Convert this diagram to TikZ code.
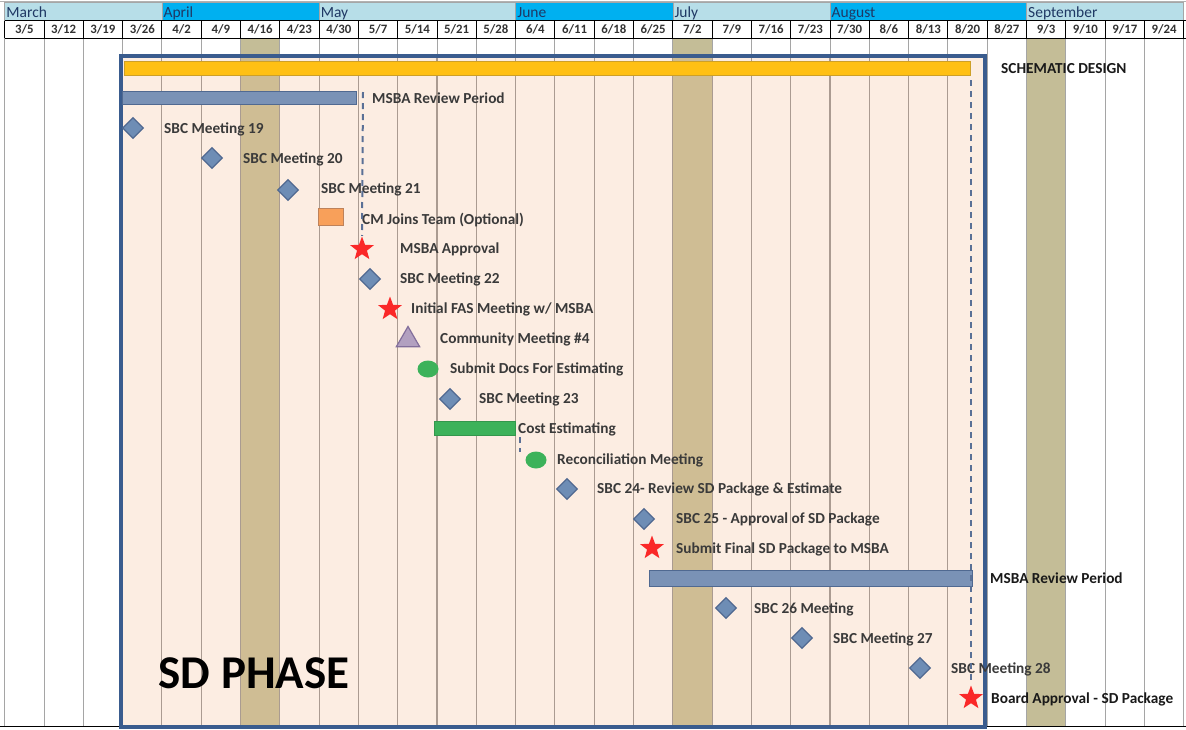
\documentclass[tikz,border=0pt]{standalone}
\usepackage{fontspec}
\setmainfont{Carlito}
\usetikzlibrary{shapes.geometric}
\definecolor{monthLight}{RGB}{183,222,232}
\definecolor{monthDark}{RGB}{0,176,240}
\definecolor{monthText}{RGB}{31,56,100}
\definecolor{tanIn}{RGB}{207,189,148}
\definecolor{tanOut}{RGB}{196,189,151}
\definecolor{peach}{RGB}{252,237,226}
\definecolor{boxBlue}{RGB}{58,92,142}
\definecolor{gridOut}{RGB}{165,165,165}
\definecolor{gridIn}{RGB}{170,155,145}
\definecolor{yellowBar}{RGB}{255,192,20}
\definecolor{yellowEdge}{RGB}{205,160,40}
\definecolor{barBlue}{RGB}{122,146,182}
\definecolor{barEdge}{RGB}{80,105,145}
\definecolor{diaFill}{RGB}{110,141,181}
\definecolor{greenM}{RGB}{60,178,90}
\definecolor{orangeM}{RGB}{248,160,90}
\definecolor{orangeEdge}{RGB}{190,130,90}
\definecolor{redStar}{RGB}{250,40,40}
\definecolor{triFill}{RGB}{178,160,192}
\definecolor{triEdge}{RGB}{130,110,155}
\definecolor{lblGray}{RGB}{58,58,58}
\definecolor{lblDark}{RGB}{25,25,25}
\definecolor{dashBlue}{RGB}{90,112,150}
\begin{document}
\begin{tikzpicture}[x=1pt,y=-1pt,
  monthtxt/.style={anchor=base west,inner sep=0,text=monthText,font=\fontsize{15.5}{15.5}\selectfont},
  datetxt/.style={inner sep=0,text=black!80,font=\fontsize{12.8}{12.8}\selectfont\bfseries},
  lbl/.style={anchor=base west,inner sep=0,text=lblGray,font=\fontsize{15.3}{15.3}\selectfont\bfseries},
  lblout/.style={lbl,text=lblDark},
  dia/.style={diamond,draw=barEdge,fill=diaFill,line width=1.2,minimum width=21,minimum height=21,inner sep=0},
  starm/.style={star,star points=5,star point ratio=2.4,fill=redStar,minimum size=25,inner sep=0},
  dot/.style={ellipse,fill=greenM,minimum width=21,minimum height=17,inner sep=0},
  tri/.style={regular polygon,regular polygon sides=3,draw=triEdge,fill=triFill,line width=1.2,minimum size=27,inner sep=0},
  bluebar/.style={draw=barEdge,fill=barBlue,line width=1,inner sep=0,anchor=west},
  dashline/.style={draw=dashBlue,line width=2,dash pattern=on 6pt off 5pt}
]
\def\xo{4.7}
\def\cw{39.3}
\useasboundingbox (0,0) rectangle (1186,729);
\fill[white] (0,0) rectangle (1186,729);

% ---- tan columns (outside colour) ----
\foreach \c in {6,17,26}
  \fill[tanOut] ({\xo+\c*\cw},38) rectangle ({\xo+(\c+1)*\cw},726);

% ---- phase box fill ----
\fill[peach] (121,56) rectangle (985,727);
\foreach \c in {6,17}
  \fill[tanIn] ({\xo+\c*\cw},58) rectangle ({\xo+(\c+1)*\cw},725);

% ---- grid lines ----
\foreach \i in {0,...,30}
  \draw[gridOut,line width=1] ({\xo+\i*\cw},38) -- ({\xo+\i*\cw},726);
\begin{scope}
  \clip (123,58) rectangle (983,725);
  \foreach \i in {0,...,30}
    \draw[gridIn,line width=1.1] ({\xo+\i*\cw},38) -- ({\xo+\i*\cw},726);
\end{scope}
\draw[black,line width=0.8] (0,726) -- (1186,726);

% ---- header: months ----
\draw[gray!60,line width=0.8] (0,1) -- (1186,1);
\foreach \a/\b/\nm/\col in {0/4/March/monthLight,4/8/April/monthDark,8/13/May/monthLight,13/17/June/monthDark,17/21/July/monthLight,21/26/August/monthDark,26/30/September/monthLight}{
  \filldraw[fill=\col,draw=gray!70,line width=0.6] ({\xo+\a*\cw},2) rectangle ({\xo+\b*\cw},20.5);
  \node[monthtxt] (m\nm) at ({\xo+\a*\cw+1.5},17) {\nm};
}
% ---- header: dates ----
\foreach \dt [count=\i from 0] in {3/5,3/12,3/19,3/26,4/2,4/9,4/16,4/23,4/30,5/7,5/14,5/21,5/28,6/4,6/11,6/18,6/25,7/2,7/9,7/16,7/23,7/30,8/6,8/13,8/20,8/27,9/3,9/10,9/17,9/24}
  \node[datetxt] (dt\i) at ({\xo+(\i+0.5)*\cw},29.5) {\dt};
\foreach \i in {0,...,30}
  \draw[black,line width=0.9] ({\xo+\i*\cw},20.5) -- ({\xo+\i*\cw},38);
\draw[black,line width=0.9] (\xo,20.5) -- (1186,20.5);
\draw[black,line width=1] (\xo,38) -- (1186,38);

% ---- phase box border ----
\draw[boxBlue,line width=3.6] (121,56) rectangle (985,727);

% ---- SD PHASE ----
\node[inner sep=0,font=\fontsize{47}{47}\selectfont\bfseries,text=black] (phase) at (254,673) {SD PHASE};

% ---- bars ----
\node[draw=yellowEdge,fill=yellowBar,line width=1,inner sep=0,anchor=west,minimum width=846,minimum height=14] (sd) at (124,68) {};
\node[lblout] (lsd) at (1001,73.5) {SCHEMATIC DESIGN};

\node[bluebar,minimum width=234,minimum height=12.5] (rev1) at (122,98) {};
\node[lbl] (lrev1) at (372,103.5) {MSBA Review Period};

% ---- dashed connector end points ----
\coordinate (d1top) at (363,92);
\coordinate (d2top) at (971,80);
\coordinate (d3top) at (520,437);
\coordinate (d3bot) at (520,452);

% ---- markers ----
\node[dia] (s19) at (133,128) {};
\node[lbl] (l19) at (164,133.5) {SBC Meeting 19};
\node[dia] (s20) at (212,158) {};
\node[lbl] (l20) at (243,163.5) {SBC Meeting 20};
\node[dia] (s21) at (288,190) {};
\node[lbl] (l21) at (321,193.5) {SBC Meeting 21};
\node[draw=orangeEdge,fill=orangeM,line width=1,minimum width=25,minimum height=17,inner sep=0] (cm) at (330.5,216.5) {};
\node[lbl] (lcm) at (362,224) {CM Joins Team (Optional)};
\node[starm] (appr) at (362,249) {};
\node[lbl] (lappr) at (400,253.5) {MSBA Approval};
\node[dia] (s22) at (370,279) {};
\node[lbl] (l22) at (400,283.5) {SBC Meeting 22};
\node[starm] (fas) at (390,309) {};
\node[lbl] (lfas) at (411,313.5) {Initial FAS Meeting w/ MSBA};
\node[tri] (comm) at (408,340) {};
\node[lbl] (lcomm) at (440,343.5) {Community Meeting \#4};
\node[dot] (docs) at (428,369) {};
\node[lbl] (ldocs) at (450,373.5) {Submit Docs For Estimating};
\node[dia] (s23) at (450,399) {};
\node[lbl] (l23) at (479,403.5) {SBC Meeting 23};
\node[draw=greenM!85!black,fill=greenM,line width=0.6,inner sep=0,anchor=west,minimum width=81,minimum height=14] (cost) at (434,428) {};
\node[lbl] (lcost) at (518,433.5) {Cost Estimating};
\node[dot] (rec) at (536,460) {};
\node[lbl] (lrec) at (557,464) {Reconciliation Meeting};
\node[dia] (s24) at (567,489) {};
\node[lbl] (l24) at (597,493.5) {SBC 24- Review SD Package \& Estimate};
\node[dia] (s25) at (644,519) {};
\node[lbl] (l25) at (676,523.5) {SBC 25 - Approval of SD Package};
\node[starm] (subm) at (652,548) {};
\node[lbl] (lsubm) at (676,553.5) {Submit Final SD Package to MSBA};
\node[bluebar,minimum width=323,minimum height=16] (rev2) at (649,578.5) {};
\node[lblout] (lrev2) at (990,583.5) {MSBA Review Period};
\node[dia] (s26) at (726,608) {};
\node[lbl] (l26) at (754,613.5) {SBC 26 Meeting};
\node[dia] (s27) at (802,638) {};
\node[lbl] (l27) at (833,643.5) {SBC Meeting 27};
\node[dia] (s28) at (920,668) {};
\node[lbl] (l28) at (951,673.5) {SBC Meeting 28};
\node[starm] (board) at (971,698) {};
\node[lblout] (lboard) at (991,703.5) {Board Approval - SD Package};

\draw[dashline] (d1top) -- (appr.north);
\draw[dashline] (d3top) -- (d3bot);
\draw[dashline] (d2top) -- (board.north);
\end{tikzpicture}
\end{document}
